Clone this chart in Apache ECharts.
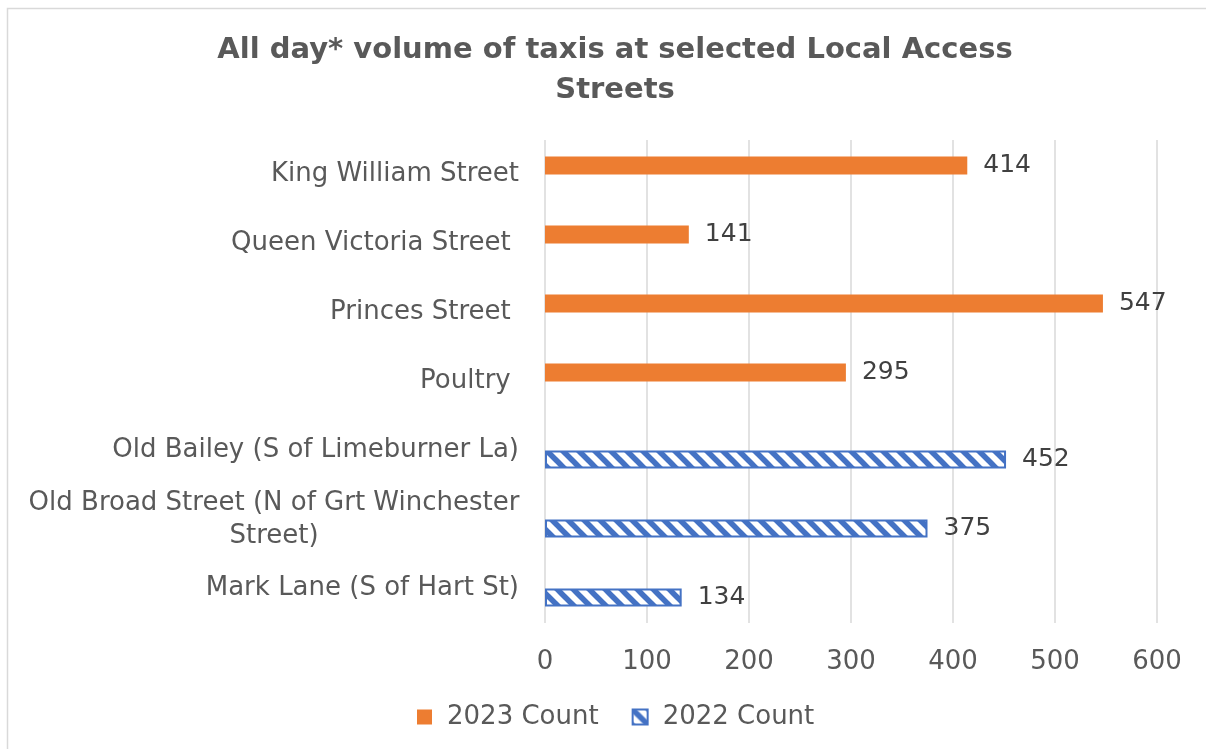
<!DOCTYPE html>
<html>
<head>
<meta charset="utf-8">
<script src="https://cdn.jsdelivr.net/npm/echarts@6/dist/echarts.min.js"></script>
<style>
html,body{margin:0;padding:0;background:#fff;}
#chart{width:1206px;height:749px;}
</style>
</head>
<body>
<div id="chart"></div>
<script>
const categories = [
  'King William Street',
  'Queen Victoria Street ',
  'Princes Street ',
  'Poultry ',
  'Old Bailey (S of Limeburner La)',
  'Old Broad Street (N of Grt Winchester\nStreet)',
  'Mark Lane (S of Hart St)'
];
const count2023 = [414, 141, 547, 295, null, null, null];
const count2022 = [null, null, null, null, 452, 375, 134];
const seriesNames = ['2023 Count', '2022 Count'];
const xTicks = [0, 100, 200, 300, 400, 500, 600];

const FONT = '"DejaVu Sans", sans-serif';

// hatch pattern (wide downward diagonal)
function makePattern() {
  const s = 16;
  const c = document.createElement('canvas');
  c.width = s; c.height = s;
  const ctx = c.getContext('2d');
  ctx.fillStyle = '#ffffff';
  ctx.fillRect(0, 0, s, s);
  ctx.strokeStyle = '#4472c4';
  ctx.lineWidth = 5.5;
  ctx.lineCap = 'square';
  for (let k = -1; k <= 1; k++) {
    ctx.beginPath();
    ctx.moveTo(k * s - 2, -2);
    ctx.lineTo(k * s + s + 2, s + 2);
    ctx.stroke();
  }
  return c;
}
const pattern = { image: makePattern(), repeat: 'repeat' };

const yData = categories.map(function (c) {
  if (c.indexOf('\n') >= 0) {
    return { value: c, textStyle: { align: 'center', padding: [0, 490, 0, 0] } };
  }
  return c;
});

const chart = echarts.init(document.getElementById('chart'));
chart.setOption({
  animation: false,
  backgroundColor: '#ffffff',
  graphic: [{
    type: 'rect',
    shape: { x: 7.5, y: 8.5, width: 1300, height: 800 },
    style: { fill: 'none', stroke: '#d9d9d9', lineWidth: 1.5 },
    silent: true, z: -10
  }],
  title: {
    text: 'All day* volume of taxis at selected Local Access\nStreets',
    left: 610,
    top: 25,
    textAlign: 'center',
    textStyle: { fontFamily: FONT, fontSize: 29, fontWeight: 'bold', color: '#595959', lineHeight: 40 }
  },
  legend: {
    bottom: 19,
    left: 417,
    padding: 0,
    icon: 'rect',
    itemWidth: 15,
    itemHeight: 15,
    itemGap: 33,
    textStyle: { fontFamily: FONT, fontSize: 26, color: '#595959', padding: [0, 0, 0, 10] },
    data: seriesNames
  },
  grid: { left: 545, top: 140, width: 612, height: 483, containLabel: false },
  xAxis: {
    type: 'value',
    min: xTicks[0], max: xTicks[xTicks.length - 1], interval: 100,
    axisLine: { show: false }, axisTick: { show: false },
    splitLine: { show: true, lineStyle: { color: '#d9d9d9', width: 1.5 } },
    axisLabel: { fontFamily: FONT, fontSize: 26, color: '#595959', margin: 26 }
  },
  yAxis: {
    type: 'category',
    inverse: true,
    data: yData,
    axisLine: { show: false }, axisTick: { show: false },
    axisLabel: { fontFamily: FONT, fontSize: 26, color: '#595959', margin: 26, lineHeight: 33 }
  },
  series: [
    {
      name: seriesNames[0], type: 'bar', data: count2023,
      barWidth: 18, barGap: '0%',
      itemStyle: { color: '#ed7d31' },
      label: { show: true, position: 'right', distance: 16, fontFamily: FONT, fontSize: 25, color: '#404040' }
    },
    {
      name: seriesNames[1], type: 'bar', data: count2022,
      barWidth: 18, barGap: '0%',
      itemStyle: { color: pattern, borderColor: '#4472c4', borderWidth: 2 },
      label: { show: true, position: 'right', distance: 16, fontFamily: FONT, fontSize: 25, color: '#404040' }
    }
  ]
});
</script>
</body>
</html>
